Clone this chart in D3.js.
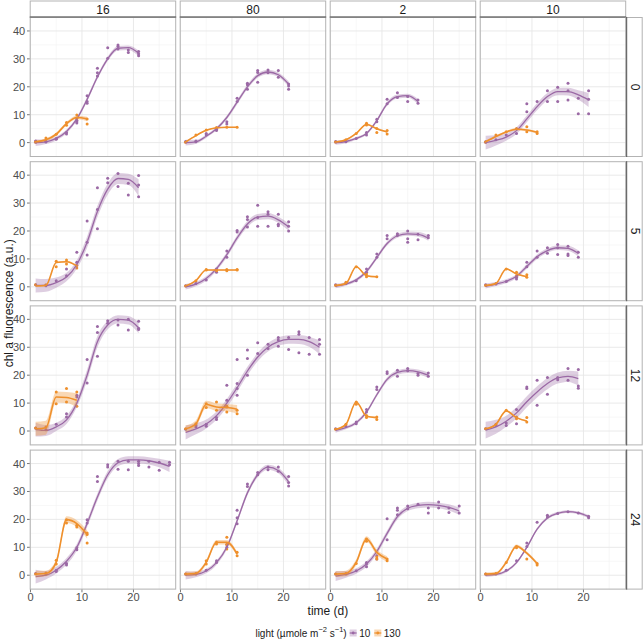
<!DOCTYPE html>
<html><head><meta charset="utf-8">
<script src="https://cdn.jsdelivr.net/npm/d3@7"></script>
<style>
html,body{margin:0;padding:0;background:#fff;}
svg{display:block;font-family:"Liberation Sans",Arial,Helvetica,sans-serif;}
</style></head>
<body>
<svg id="chart" width="644" height="640"></svg>
<script>
// ---------------- data ----------------
const colLabels = ["16", "80", "2", "10"];      // facet columns
const rowLabels = ["0", "5", "12", "24"];       // facet rows
const lightLabels = ["10", "130"];              // legend levels
const xTicks = [0, 10, 20];
const yTicks = [0, 10, 20, 30, 40];
// all series are sampled on odd days: 1, 3, 5, ...
// panels in row-major order: (row 0: 16,80,2,10), (row 5: ...), (row 12: ...), (row 24: ...)

// light 10 : smoothed fit
const lowFit = [
  [0, 0.3, 1.5, 4, 8.5, 15.5, 23.5, 30, 33.8, 34, 32],
  [0, 0.3, 2.3, 5, 9, 14.5, 20, 24, 25.3, 24.3, 21],
  [0, 0.4, 1.5, 3.3, 7.9, 13.9, 16.5, 16.8, 14.7],
  [0, 0.8, 2, 4.3, 8.5, 12.9, 16.5, 18.3, 18.3, 17.1, 15.3],
  [0.5, 0.5, 1.5, 3.5, 8, 16, 27, 35, 38.8, 38.5, 35.5],
  [0, 1, 3, 6.5, 11.5, 17.5, 22.5, 25, 25.3, 24, 21.5],
  [0.3, 1, 2.5, 5.5, 10.5, 15.5, 18.3, 19, 18.8, 17.5],
  [0.3, 1, 2, 3.8, 7.3, 10.8, 13, 14, 13.8, 12],
  [0.5, 0.2, 1.5, 4, 10, 20, 32, 38, 40, 39.7, 37],
  [-0.5, 0.8, 2.5, 5.5, 10, 15.5, 21.5, 26.5, 30, 32, 32.8, 32.8, 32, 30],
  [0.2, 1.2, 3, 6.8, 13, 18.5, 21, 21.6, 21.2, 20],
  [0.3, 1.5, 3.5, 6.5, 10.5, 14, 17, 19, 19.6, 18.8],
  [-0.5, 0, 1.8, 5, 10, 18.5, 28, 36, 40.3, 41.3, 41.3, 41, 40.2, 39],
  [0, 0.3, 1.5, 4.5, 10, 19.5, 29.5, 36, 38.7, 37.5, 33.5],
  [-0.3, 0.3, 1.5, 4, 8.5, 15, 21, 24, 25, 25.3, 25, 24.3, 23],
  [0, 0.3, 1.5, 4.5, 10, 16.5, 20.5, 22.2, 22.8, 22.3, 21]
];
// light 10 : confidence band half-width
const lowSe = [
  [1.2, 0.8, 0.7, 0.7, 0.7, 0.8, 0.8, 0.8, 0.8, 0.8, 1],
  [1, 0.7, 0.6, 0.6, 0.7, 0.8, 0.8, 0.8, 0.8, 0.8, 1],
  [0.8, 0.6, 0.5, 0.5, 0.6, 0.7, 0.7, 0.7, 0.9],
  [2.5, 1.8, 1.3, 1.2, 1.2, 1.3, 1.3, 1.3, 1.4, 1.7, 2.5],
  [2.5, 2.3, 1.8, 1.5, 1.5, 2, 2, 2, 2, 2, 3],
  [1, 0.8, 0.8, 0.8, 0.9, 1, 1.1, 1.1, 1.1, 1.1, 1.3],
  [0.8, 0.6, 0.6, 0.6, 0.7, 0.7, 0.7, 0.7, 0.8, 1],
  [0.9, 0.7, 0.7, 0.7, 0.8, 0.8, 0.8, 0.8, 0.9, 1.1],
  [2.5, 2, 1.5, 1.5, 1.5, 2, 2, 1.5, 1.5, 1.5, 2],
  [2.5, 2, 1.6, 1.5, 1.5, 1.5, 1.5, 1.5, 1.5, 1.5, 1.5, 1.6, 1.8, 2.5],
  [0.8, 0.6, 0.6, 0.6, 0.7, 0.8, 0.8, 0.8, 0.8, 1],
  [3, 2.5, 2, 2, 2, 2, 2, 2, 2, 2.5],
  [2.5, 1.5, 1.2, 1.2, 1.2, 1.3, 1.3, 1.3, 1.3, 1.3, 1.3, 1.3, 1.5, 2],
  [1.5, 1, 0.8, 0.8, 0.8, 0.9, 0.9, 0.9, 0.9, 1, 1.3],
  [1.8, 1.2, 1, 1, 1, 1, 1, 1, 1, 1, 1, 1.1, 1.3],
  [0.6, 0.5, 0.5, 0.5, 0.5, 0.5, 0.5, 0.5, 0.5, 0.5, 0.6]
];
// light 10 : replicate measurements per sampling day
const lowPts = [
  [[0.1, 0.4, 0.6], [0.2, 0.5], [1.5, 1.2], [3.1, 3.6], [7.5, 7, 8], [16.8, 14.7, 14.1], [26.6, 25, 23.9], [34, 30.2], [35, 34.4, 33.5], [33.2, 32.3], [32.6, 31.8, 31.1]],
  [[0.2, 0.4], [0.3, 0.6], [3.3, 2.8], [4.3, 4.8], [7.5, 6.7], [15.9, 14.7], [19.1, 21.3, 20.7], [25.8, 25.1, 21.6], [26, 25], [25.8, 23.4], [21, 20.3, 19.1]],
  [[0.4, 0.2], [0.3], [1.5], [3.6, 2.7], [8.4, 7.5], [15.5, 13.9], [17.9, 16.2], [16.5, 14.7], [15.3, 14.1]],
  [[0.3, 0.1], [1], [2.7], [3.3], [13.9, 11.1], [14.7], [18.6, 14.7], [19.8, 14.7], [21.3, 18.6, 15.3], [15.9, 10.3], [18.6, 15.5, 10.3]],
  [[0.7], [0.4], [2.2], [4, 6.4], [12.4, 8.8], [23.6, 16, 11.4], [35.5, 27.7, 20.8], [38.9, 37.3], [40.6, 35.9], [37.1, 32.9], [39.9, 36.5, 32.3]],
  [[0.4], [1.2], [2.4], [6.4, 5.2], [10.6, 12.8], [20.2, 19.6], [25.1, 24.1, 21.4], [29.2, 24.8, 21.7], [26.9, 26, 21.7], [26, 22.4, 21.9], [23.3, 21.7, 20]],
  [[0.7], [1.2], [2.2], [6.4, 5.2], [11.8, 10.6], [18.4, 17.2], [19, 18.4], [20, 17.2, 16], [18.8, 16.9], [18.4, 17.6]],
  [[0.7], [1], [1.9], [3.4, 2.8], [8.8, 7.2], [12.8, 10.6], [14, 12], [15.2, 14, 11.6], [14.5, 11.8, 11.2], [12.4, 10.6]],
  [[1.1], [0.5], [2.4], [6.2, 5], [12.8, 12.2], [25.6, 17.2], [37.4, 35.3, 26.8], [39.5, 38.6], [39.8, 38], [40, 36.2], [39.3, 36.8, 36.4]],
  [[0.6], [1.4, 2], [1.7, 2.4], [4.1, 4.8], [16.4, 11, 8.6], [25.6, 17, 15.2, 12.8], [29, 26, 20], [31.6, 27.8], [31.1, 29.6], [33.5, 32.6, 30.4], [33.5, 29.2], [35.6, 34.7, 28], [33.5, 27.5], [32.8, 31.1, 27.5]],
  [[0.8], [1.7], [3.2, 2.6], [7.7, 6.8], [15.8, 14.9], [21.2, 20.6], [19.6, 21.8], [22.4, 21.6], [20.6, 20], [20.8, 19.6]],
  [[0.8], [2], [2, 2.9], [7.7, 2.6], [15.2, 15.8], [18.2, 9.2], [19.2, 13.2], [19.2, 18.4], [22.4, 18.2], [22, 16.1, 15.3]],
  [[0.6], [0.4], [1.8, 1.3], [4.2, 3.7], [9.8, 9.1], [19.9, 18.7], [35.4, 33.6], [39.6, 38.8], [40.8, 38], [40.8, 37.8], [40.8, 40, 39.3], [40.8, 38.8], [40.5, 37.6], [40.5, 39.6]],
  [[0.4], [0.4], [1.8], [4.6, 5.2], [10, 11], [23.3, 20.6, 18.4], [32.7, 31.8], [36.8, 36], [38.8, 37.8], [38.8, 37.2], [35.4, 33.2, 32]],
  [[0.4], [0.4], [1.6], [4, 3, 4.6], [7, 5.8], [20.2, 12.7], [24.1, 23.3, 21.7], [24.8, 23.8], [25.4], [24.1, 22.3], [26.2, 24.1], [22.5, 24.1], [24.8, 22.3]],
  [[0.4], [0.4], [1.8], [5.2], [10.3, 11.5], [19], [21.5, 20.9], [22.1], [22.7], [22.3], [21.1, 20.6]]
];

// light 130 : smoothed fit
const highFit = [
  [0.3, 1, 3, 6.8, 9, 8.5],
  [0.2, 2.5, 4.4, 5.3, 5.5, 5.5],
  [0.2, 1, 3.3, 6.5, 5, 3.8],
  [0.3, 2.2, 3.8, 4.8, 4.5, 3.7],
  [0.3, 0.5, 8.7, 9, 7.5],
  [0.3, 2.2, 6, 6, 6, 6],
  [0.5, 1.2, 7.2, 4, 3.6],
  [0.5, 1.2, 6.4, 4.6, 3.6],
  [0.8, 1.2, 12.2, 12, 11],
  [0.8, 2.6, 9.5, 8.6, 8.4, 7.8],
  [0.6, 2.4, 10.4, 5.3, 4.8],
  [0.8, 2.4, 7.2, 4.8, 3.6],
  [0.4, 0.6, 4.6, 19.9, 18.5, 14.6],
  [0.4, 0.6, 4.6, 11.8, 11.8, 7.6],
  [0.4, 0.6, 4.6, 13, 8.2, 5.8],
  [0.4, 0.6, 4.6, 10.4, 7.9, 4.2]
];
// light 130 : confidence band half-width
const highSe = [
  [0.5, 0.5, 0.6, 0.6, 0.6, 0.8],
  [0.2, 0.2, 0.2, 0.2, 0.2, 0.2],
  [0.3, 0.3, 0.3, 0.3, 0.3, 0.3],
  [0.4, 0.4, 0.4, 0.4, 0.4, 0.4],
  [0.3, 0.3, 0.3, 0.3, 0.3],
  [0.2, 0.2, 0.2, 0.2, 0.2, 0.2],
  [0.3, 0.3, 0.3, 0.3, 0.3],
  [0.3, 0.3, 0.3, 0.3, 0.3],
  [2.5, 2.5, 2, 2, 2.5],
  [1.2, 1.2, 1.3, 1.3, 1.3, 1.5],
  [0.3, 0.3, 0.3, 0.3, 0.3],
  [0.3, 0.3, 0.3, 0.3, 0.3],
  [1.2, 1, 1, 1.2, 1.2, 1.5],
  [0.8, 0.8, 0.8, 0.8, 0.8, 0.8],
  [1, 1, 1, 1, 1, 1],
  [0.6, 0.6, 0.6, 0.6, 0.6, 0.6]
];
// light 130 : replicate measurements per sampling day
const highPts = [
  [[0.2], [1.7], [3], [7.2, 6.2], [9.9, 8.7], [8.5, 6.7]],
  [[0.1], [2.7], [4.5], [5.4], [5.5], [5.5]],
  [[0.2], [1], [3.3], [6.9, 6.3], [5.1, 3.6], [4.3, 3.1]],
  [[0.2], [2.7], [3.9], [5.1], [5.7, 3.9], [3.9, 3.3]],
  [[0.7], [0.7], [9.2, 7.2], [9.6, 8.2], [7.6, 6.7]],
  [[0.3], [2.2], [6, 6.2], [6, 5.8], [6.2, 5.8], [6, 6.2]],
  [[0.5], [1.6], [7.2], [4.6, 3.6], [3.6]],
  [[0.5], [1.2], [6.4], [5.2, 4], [4.3, 3.4]],
  [[1.1], [1.4], [14, 9.8], [15.2, 10.4], [14, 8.9]],
  [[0.8], [2.6], [9.8, 8.4], [10.4, 7.4], [8.9, 6.8], [7.4, 6.2]],
  [[0.6], [2.4], [10.4, 9.6], [5.6, 4.8], [5, 4.1]],
  [[0.8], [2.4], [7.4], [5, 4.4], [4.8, 3.2]],
  [[0.4], [0.8], [5.4, 4], [19.9, 18.7], [17.9, 17.3], [15.1, 14.6, 11.5]],
  [[0.4], [0.6], [5.2, 4], [11.8, 11.2], [13.6, 11, 9.4], [8.2, 7]],
  [[0.4], [0.6], [4.2], [13, 12.2], [6.5, 5.8], [5.8, 5.2]],
  [[0.4], [0.6], [4.6], [10.3, 9.8], [5.8], [4.2, 3.7]]
];

// ---------------- drawing ----------------
const dayOf = i => 1 + 2 * i;
const purple = "#9b69a5", orange = "#ef902c";
const purpleFill = "rgba(155,105,165,0.33)", orangeFill = "rgba(239,144,44,0.35)";

const svg = d3.select("#chart");
const panelW = 146.5, panelH = 140;
const colX = d3.scaleOrdinal().domain(colLabels).range(colLabels.map((c, i) => 29.7 + i * 150));
const rowY = d3.scaleOrdinal().domain(rowLabels).range(rowLabels.map((r, j) => 17 + j * 144.2));
const x = d3.scaleLinear().domain([-0.15, 28.3]).range([0, panelW]);
const y = d3.scaleLinear().domain([-5.15, 45]).range([panelH, 0]);

const lineGen = d3.line().x(d => x(d.t)).y(d => y(d.v)).curve(d3.curveMonotoneX);
const areaGen = d3.area().x(d => x(d.t)).y0(d => y(d.v - d.s)).y1(d => y(d.v + d.s)).curve(d3.curveMonotoneX);

const series = [
  {fit: lowFit, se: lowSe, pts: lowPts, col: purple, fill: purpleFill, w: 1.3},
  {fit: highFit, se: highSe, pts: highPts, col: orange, fill: orangeFill, w: 1.6}
];

rowLabels.forEach((rl, j) => {
  colLabels.forEach((cl, i) => {
    const k = j * 4 + i;
    const g = svg.append("g").attr("transform", `translate(${colX(cl)},${rowY(rl)})`);
    g.append("rect").attr("width", panelW).attr("height", panelH).attr("fill", "#fff");
    const clipId = "clip" + k;
    g.append("clipPath").attr("id", clipId).append("rect").attr("width", panelW).attr("height", panelH);
    // minor grid
    const xMinor = [5, 15, 25], yMinor = [-5, 5, 15, 25, 35, 45];
    g.selectAll(".xm").data(xMinor).join("line").attr("x1", d => x(d)).attr("x2", d => x(d))
      .attr("y1", 0).attr("y2", panelH).attr("stroke", "#f2f2f2").attr("stroke-width", 0.6);
    g.selectAll(".ym").data(yMinor.filter(v => y(v) > 0 && y(v) < panelH)).join("line")
      .attr("x1", 0).attr("x2", panelW).attr("y1", d => y(d)).attr("y2", d => y(d))
      .attr("stroke", "#f2f2f2").attr("stroke-width", 0.6);
    // major grid
    g.selectAll(".xg").data(xTicks).join("line").attr("x1", d => x(d)).attr("x2", d => x(d))
      .attr("y1", 0).attr("y2", panelH).attr("stroke", "#e6e6e6").attr("stroke-width", 0.9);
    g.selectAll(".yg").data(yTicks).join("line").attr("x1", 0).attr("x2", panelW)
      .attr("y1", d => y(d)).attr("y2", d => y(d)).attr("stroke", "#e6e6e6").attr("stroke-width", 0.9);

    const content = g.append("g").attr("clip-path", `url(#${clipId})`);
    // points
    series.forEach(s => {
      const pts = [];
      s.pts[k].forEach((vals, di) => vals.forEach(v => pts.push({t: dayOf(di), v})));
      content.append("g").selectAll("circle").data(pts).join("circle")
        .attr("cx", d => x(d.t)).attr("cy", d => y(d.v)).attr("r", 1.5)
        .attr("fill", s.col);
    });
    // smooths
    series.forEach(s => {
      const data = s.fit[k].map((v, di) => ({t: dayOf(di), v, s: s.se[k][di]}));
      content.append("path").datum(data).attr("d", areaGen).attr("fill", s.fill);
      content.append("path").datum(data).attr("d", lineGen).attr("fill", "none")
        .attr("stroke", s.col).attr("stroke-width", s.w);
    });
    g.append("rect").attr("x", 0.5).attr("y", 0.5).attr("width", panelW - 1).attr("height", panelH - 1)
      .attr("fill", "none").attr("stroke", "#b3b3b3").attr("stroke-width", 1);
  });
});

// top strips
colLabels.forEach(cl => {
  const g = svg.append("g").attr("transform", `translate(${colX(cl)},0.5)`);
  g.append("rect").attr("x", 0.5).attr("y", 0.5).attr("width", panelW - 1).attr("height", 16)
    .attr("fill", "#fff").attr("stroke", "#b3b3b3");
  g.append("line").attr("x1", 0).attr("x2", panelW).attr("y1", 16.5).attr("y2", 16.5)
    .attr("stroke", "#555").attr("stroke-width", 1);
  g.append("text").attr("x", panelW / 2).attr("y", 9).attr("text-anchor", "middle")
    .attr("dominant-baseline", "central").attr("font-size", 12).attr("fill", "#1a1a1a").text(cl);
});
// right strips
const stripX = colX(colLabels[3]) + panelW;
rowLabels.forEach(rl => {
  const g = svg.append("g").attr("transform", `translate(${stripX},${rowY(rl)})`);
  g.append("rect").attr("x", 0).attr("y", 0.5).attr("width", 16).attr("height", panelH - 1)
    .attr("fill", "#fff").attr("stroke", "#b3b3b3");
  g.append("line").attr("x1", 0.5).attr("x2", 0.5).attr("y1", 0).attr("y2", panelH)
    .attr("stroke", "#555").attr("stroke-width", 1);
  g.append("text").attr("transform", `translate(8.5,${panelH / 2}) rotate(90)`)
    .attr("text-anchor", "middle").attr("dominant-baseline", "central")
    .attr("font-size", 12).attr("fill", "#1a1a1a").text(rl);
});

// y axes (left column)
rowLabels.forEach(rl => {
  const g = svg.append("g").attr("transform", `translate(${colX(colLabels[0])},${rowY(rl)})`);
  g.selectAll("line").data(yTicks).join("line").attr("x1", -2.7).attr("x2", 0)
    .attr("y1", d => y(d)).attr("y2", d => y(d)).attr("stroke", "#555").attr("stroke-width", 0.8);
  g.selectAll("text").data(yTicks).join("text").attr("x", -4.5).attr("y", d => y(d))
    .attr("text-anchor", "end").attr("dominant-baseline", "central")
    .attr("font-size", 11).attr("fill", "#4d4d4d").text(d => d);
});
// x axes (bottom row)
const bottomY = rowY(rowLabels[3]) + panelH;
colLabels.forEach(cl => {
  const g = svg.append("g").attr("transform", `translate(${colX(cl)},${bottomY})`);
  g.selectAll("line").data(xTicks).join("line").attr("x1", d => x(d)).attr("x2", d => x(d))
    .attr("y1", 0).attr("y2", 2.7).attr("stroke", "#555").attr("stroke-width", 0.8);
  g.selectAll("text").data(xTicks).join("text").attr("x", d => x(d)).attr("y", 7)
    .attr("text-anchor", "middle").attr("dominant-baseline", "central")
    .attr("font-size", 11).attr("fill", "#4d4d4d").text(d => d);
});

// axis titles
const plotLeft = colX(colLabels[0]), plotRight = colX(colLabels[3]) + panelW;
svg.append("text").attr("x", (plotLeft + plotRight) / 2).attr("y", 611)
  .attr("text-anchor", "middle").attr("dominant-baseline", "central")
  .attr("font-size", 12).attr("fill", "#1a1a1a").text("time (d)");
svg.append("text").attr("transform", `translate(9,${(rowY(rowLabels[0]) + bottomY) / 2}) rotate(-90)`)
  .attr("text-anchor", "middle").attr("dominant-baseline", "central")
  .attr("font-size", 12).attr("fill", "#1a1a1a").text("chl a fluorescence (a.u.)");

// legend
const leg = svg.append("g").attr("transform", "translate(0,633)");
const title = leg.append("text").attr("x", 0).attr("y", 0).attr("dominant-baseline", "central")
  .attr("font-size", 10).attr("fill", "#1a1a1a");
title.append("tspan").text("light (µmole m");
title.append("tspan").attr("dy", -4).attr("font-size", 7.5).text("\u22122");
title.append("tspan").attr("dy", 4).text(" s");
title.append("tspan").attr("dy", -4).attr("font-size", 7.5).text("\u22121");
title.append("tspan").attr("dy", 4).text(")");
const tw = title.node().getComputedTextLength();
let cx = tw + 3;
lightLabels.forEach((lab, i) => {
  const s = series[i];
  const kg = leg.append("g").attr("transform", `translate(${cx},0)`);
  kg.append("rect").attr("x", 0).attr("y", -3.5).attr("width", 7).attr("height", 7).attr("fill", s.fill);
  kg.append("line").attr("x1", 0).attr("x2", 7).attr("y1", 0).attr("y2", 0).attr("stroke", s.col).attr("stroke-width", 1.2);
  kg.append("circle").attr("cx", 3.5).attr("cy", 0).attr("r", 1.4).attr("fill", s.col);
  const t = kg.append("text").attr("x", 9.5).attr("y", 0).attr("dominant-baseline", "central")
    .attr("font-size", 10).attr("fill", "#1a1a1a").text(lab);
  cx += 9.5 + t.node().getComputedTextLength() + 4;
});
const legW = cx - 4;
leg.attr("transform", `translate(${(plotLeft + plotRight) / 2 - legW / 2},633)`);
</script>
</body></html>
